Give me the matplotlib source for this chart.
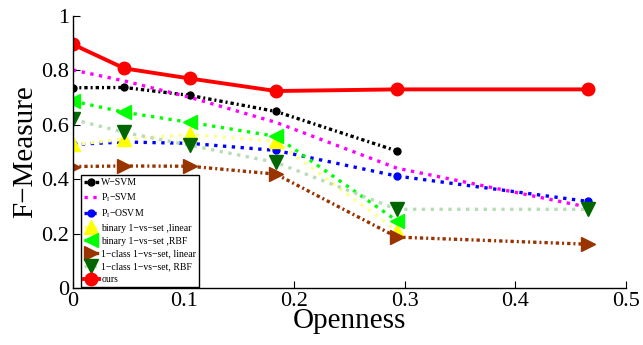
import matplotlib
matplotlib.use('Agg')
import matplotlib.pyplot as plt

plt.rcParams['font.family'] = ['Liberation Serif', 'DejaVu Serif']
plt.rcParams['mathtext.fontset'] = 'custom'
plt.rcParams['mathtext.rm'] = 'Liberation Serif'
plt.rcParams['mathtext.it'] = 'Liberation Serif:italic'

openness = [0, 0.0465, 0.1056, 0.1835, 0.2929, 0.4655]

w_svm = [0.735, 0.736, 0.707, 0.648, 0.503]
pi_svm = [0.80, 0.76, 0.70, 0.608, 0.44, 0.297]
pi_osvm = [0.527, 0.536, 0.531, 0.505, 0.411, 0.318]
bin_linear = [0.527, 0.546, 0.564, 0.538, 0.21]
bin_rbf = [0.686, 0.645, 0.608, 0.557, 0.247]
one_linear = [0.446, 0.448, 0.447, 0.418, 0.187, 0.161]
one_rbf = [0.619, 0.571, 0.524, 0.461, 0.289, 0.289]
ours = [0.894, 0.806, 0.769, 0.723, 0.729, 0.729]

labels = ['W\u2212SVM', r'P$_\mathrm{I}$' + '\u2212SVM',
          r'P$_\mathrm{I}$' + '\u2212OSVM',
          'binary 1\u2212vs\u2212set ,linear', 'binary 1\u2212vs\u2212set ,RBF',
          '1\u2212class 1\u2212vs\u2212set, linear', '1\u2212class 1\u2212vs\u2212set, RBF', 'ours']

fig = plt.figure(figsize=(6.43, 3.45), dpi=100)
ax = fig.add_axes([0.1135, 0.165, 0.86, 0.79])

lw = 2.4
dashdot = (0, (1.0, 0.9, 0.6, 0.9))
ax.plot(openness[:5], w_svm, linestyle=dashdot, color='black', lw=lw, marker='o', ms=5,
        dash_capstyle='butt', label=labels[0])
ax.plot(openness, pi_svm, linestyle=':', color='#ff00ff', lw=lw, dash_capstyle='butt',
        label=labels[1])
ax.plot(openness, pi_osvm, linestyle=':', color='blue', lw=lw, marker='o', ms=5,
        dash_capstyle='butt', label=labels[2])
ax.plot(openness[:5], bin_linear, linestyle=':', color='#ffff90', lw=lw, marker='^', ms=10,
        mfc='yellow', mec='yellow', dash_capstyle='butt', label=labels[3])
ax.plot(openness[:5], bin_rbf, linestyle=':', color='#00ff00', lw=lw, marker='<', ms=10,
        mfc='#00ff00', mec='#00ff00', dash_capstyle='butt', label=labels[4])
ax.plot(openness, one_linear, linestyle=dashdot, color='#993300', lw=lw, marker='>', ms=10,
        mfc='#993300', mec='#993300', dash_capstyle='butt', label=labels[5])
ax.plot(openness, one_rbf, linestyle=':', color='#b8dcb8', lw=lw, marker='v', ms=10,
        mfc='#006600', mec='#006600', dash_capstyle='butt', label=labels[6])
ax.plot(openness, ours, linestyle='-', color='red', lw=2.8, marker='o', ms=9,
        mfc='red', mec='red', label=labels[7])

ax.set_xlim(0, 0.5)
ax.set_ylim(0, 1)
ax.set_xticks([0, 0.1, 0.2, 0.3, 0.4, 0.5])
ax.set_xticklabels(['0', '0.1', '0.2', '0.3', '0.4', '0.5'])
ax.set_yticks([0, 0.2, 0.4, 0.6, 0.8, 1])
ax.set_yticklabels(['0', '0.2', '0.4', '0.6', '0.8', '1'])
ax.tick_params(direction='in', labelsize=16, length=5, width=0.8, pad=3)
ax.spines['top'].set_visible(False)
ax.spines['right'].set_visible(False)
for s in ['left', 'bottom']:
    ax.spines[s].set_linewidth(1)

ax.set_xlabel('Openness', fontsize=21, labelpad=-2)
ax.set_ylabel('F\u2212Measure', fontsize=21, labelpad=2)

leg = ax.legend(loc='lower left', bbox_to_anchor=(0.014, 0.003), fontsize=7,
                frameon=True, fancybox=False, edgecolor='black', framealpha=1,
                handlelength=1.6, handletextpad=0.2, labelspacing=0.4,
                borderpad=0.3, borderaxespad=0)
leg.get_frame().set_linewidth(1)

fig.savefig('out.png', dpi=100)
